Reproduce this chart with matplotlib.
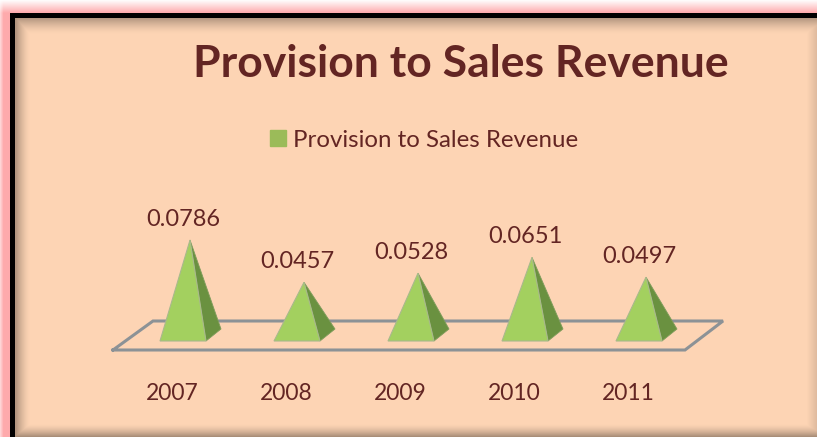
import numpy as np
import matplotlib
matplotlib.use('Agg')
import matplotlib.pyplot as plt
from matplotlib.patches import Patch

# Values
years = ['2007', '2008', '2009', '2010', '2011']
provision = [0.0786, 0.0457, 0.0528, 0.0651, 0.0497]
series_name = 'Provision to Sales Revenue'

W, H = 817, 437
text_col = '#632523'
font = 'Lato'

fig = plt.figure(figsize=(W / 100, H / 100), dpi=100)

# Background: pink glow, black edge on top and left, peach panel with inner shadow
bg = fig.add_axes([0, 0, 1, 1])
xx, yy = np.meshgrid(np.arange(W) + 0.5, np.arange(H) + 0.5)
img = np.zeros((H, W, 3))
img[:] = np.array([253, 212, 180]) / 255
shade = np.maximum.reduce([
    0.30 * np.clip(1 - (xx - 16) / 14, 0, 1) ** 1.5,
    0.30 * np.clip(1 - (yy - 18) / 16, 0, 1) ** 1.5,
    0.12 * np.clip(1 - (W - xx) / 10, 0, 1),
    0.35 * np.clip(1 - (H - yy) / 13, 0, 1) ** 1.5,
])
img *= (1 - shade)[..., None]
pink = np.array([254, 170, 172]) / 255
outer = (xx < 10) | (yy < 13)
fade = np.clip(np.minimum(yy / 13, 1) * np.minimum(xx / 6 + 0.4, 1), 0, 1)
glow = 1 - fade[..., None] * (1 - pink)
img[outer] = glow[outer]
img[(xx >= 10) & (xx < 15.5) & (yy >= 13)] = 0
img[(yy >= 13) & (yy < 18.5) & (xx >= 10)] = 0
bg.imshow(img, aspect='auto', extent=(0, W, H, 0), interpolation='nearest')
bg.axis('off')

# Chart axes: x in category index, y in value, scaled to the picture
ax = fig.add_axes([0, 0, 1, 1], facecolor='none')
x0, dx = 183, 114
y0, dy = 341, 101 / 0.0786
ax.set_xlim(-x0 / dx, (W - x0) / dx)
ax.set_ylim(-(H - y0) / dy, y0 / dy)
ax.axis('off')
px = 1 / dx
py = 1 / dy

# Floor
ax.plot([-70 * px, 502 * px, 540 * px, -30 * px, -70 * px],
        [-9 * py, -9 * py, 20 * py, 20 * py, -9 * py],
        color='#8c9296', lw=2.2, solid_joinstyle='miter', zorder=1)

# Pyramids
for i, v in enumerate(provision):
    left = i - 23 * px
    right = i + 23 * px
    back = i + 38 * px
    top = i + 7 * px
    ax.fill([right, back, top], [0, 12 * py, v], color='#6a9140', ec='#7f9c5c', lw=0.6, zorder=2)
    ax.fill([left, right, top], [0, 0, v], color='#a3d05f', ec='#a9b98c', lw=0.8, zorder=3)
    ax.annotate(f'{v:.4f}', (i, v), xytext=(0, 21 * 0.72), textcoords='offset points',
                ha='center', va='center', color=text_col, fontsize=17, family=font)
    ax.annotate(years[i], (i, 0), xytext=(-11 * 0.72, -53 * 0.72), textcoords='offset points',
                ha='center', va='center', color=text_col, fontsize=16.5, family=font)

fig.text(461 / W, 1 - 64 / H, series_name, ha='center', va='center', color=text_col,
         fontsize=32, fontweight='bold', family=font)

fig.legend(handles=[Patch(color='#9bbb59', label=series_name)], loc='center',
           bbox_to_anchor=(424 / W, 1 - 140 / H), frameon=False, handlelength=0.68,
           handleheight=0.68, handletextpad=0.3, labelcolor=text_col,
           prop={'family': font, 'size': 17.3})

fig.savefig('out.png', dpi=100)
